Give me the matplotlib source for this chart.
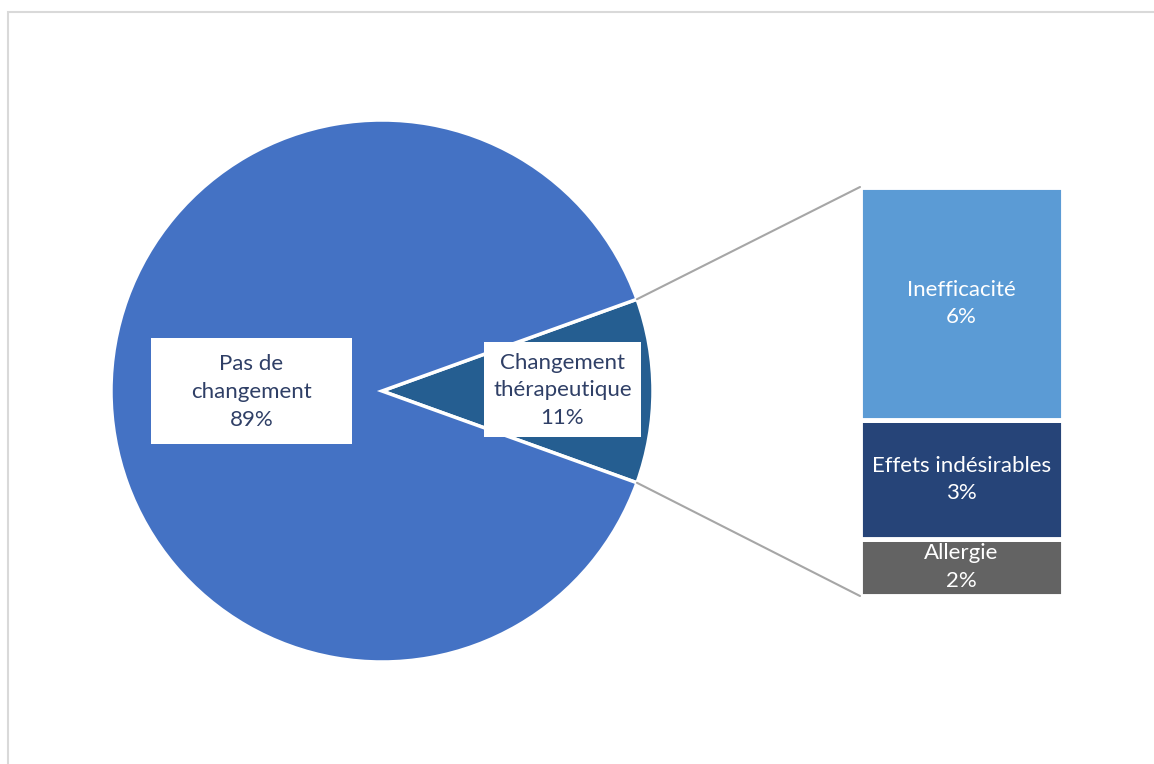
import numpy as np
from matplotlib import pyplot as plt
from matplotlib.patches import Rectangle, ConnectionPatch

# Camembert principal
pie_labels = ["Changement\nthérapeutique", "Pas de\nchangement"]
pie_values = [11, 89]
pie_pct = ["11%", "89%"]
pie_colors = ["#255E91", "#4472C4"]

# Détail du changement thérapeutique (barre empilée, de bas en haut)
bar_labels = ["Allergie", "Effets indésirables", "Inefficacité"]
bar_values = [1.55, 3.2, 6.3]
bar_pct = ["2%", "3%", "6%"]
bar_colors = ["#636363", "#264478", "#5B9BD5"]

W, H = 1154, 764
text_color = "#2F3F66"
plt.rcParams['font.family'] = ['Lato', 'DejaVu Sans']

fig = plt.figure(figsize=(W / 100, H / 100), dpi=100)
ax = fig.add_axes([0, 0, 1, 1])

# cadre gris
ax.add_patch(Rectangle((8, -20), W + 40, H - 12 + 20, fill=False,
                       edgecolor="#D9D9D9", linewidth=1.5))

center = (382, H - 391)
radius = 271
half = pie_values[0] / sum(pie_values) * 360 / 2
wedges, _ = ax.pie(pie_values, colors=pie_colors, startangle=-half,
                   center=center, radius=radius, frame=True,
                   wedgeprops=dict(edgecolor="white", linewidth=2.5))
ax.set_xlim(0, W)
ax.set_ylim(0, H)
ax.axis('off')

# étiquettes du camembert
boxes = [((484, H - 437), 157, 95), ((151, H - 444), 201, 106)]
for (xy, bw, bh), lab, pct in zip(boxes, pie_labels, pie_pct):
    ax.add_patch(Rectangle(xy, bw, bh, facecolor="white", edgecolor="none", zorder=3))
    ax.text(xy[0] + bw / 2, xy[1] + bh / 2 - 1, lab + "\n" + pct, ha="center", va="center",
            fontsize=16, color=text_color, linespacing=1.48, zorder=4)

# barre de détail
bax = fig.add_axes([860 / W, (H - 596) / H, 203 / W, 409 / H])
bottom = 0
for v, lab, pct, c in zip(bar_values, bar_labels, bar_pct, bar_colors):
    bax.bar(0, v, bottom=bottom, width=1, color=c, edgecolor="white", linewidth=3.5)
    bax.text(0, bottom + v / 2, lab + "\n" + pct, ha="center", va="center",
             fontsize=16, color="white", linespacing=1.48)
    bottom += v
bax.set_xlim(-0.5, 0.5)
bax.set_ylim(0, bottom)
bax.axis('off')

# lignes de liaison
for ang, yb in [(half, 1), (-half, 0)]:
    p = (center[0] + radius * np.cos(np.radians(ang)),
         center[1] + radius * np.sin(np.radians(ang)))
    con = ConnectionPatch(xyA=p, coordsA=ax.transData, xyB=(0, yb), coordsB=bax.transAxes,
                          color="#A6A6A6", linewidth=1.5)
    fig.add_artist(con)

plt.savefig("out.png", dpi=100)
